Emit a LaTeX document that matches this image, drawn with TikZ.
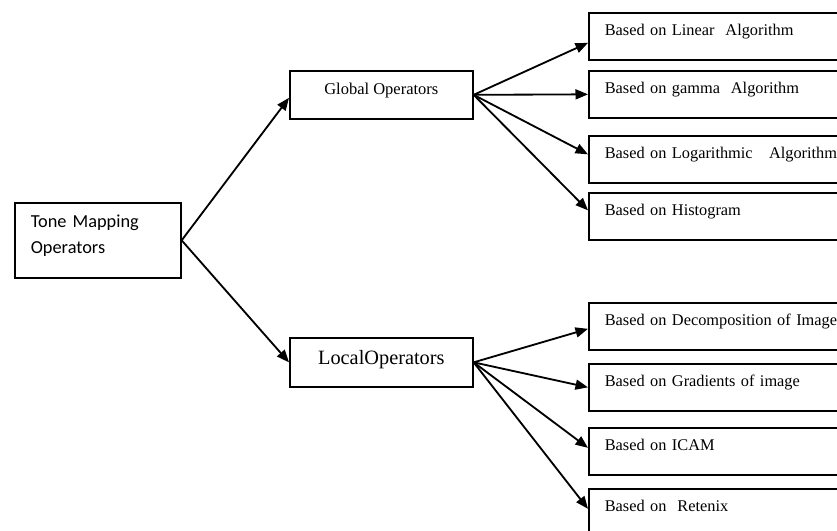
\documentclass[tikz,border=0pt]{standalone}
\usepackage{fontspec}
\setmainfont{Liberation Serif}
\newfontfamily\calibri{Carlito}
\usetikzlibrary{arrows.meta}
\begin{document}
\begin{tikzpicture}[x=0.6pt,y=-0.6pt,
		box/.style={draw=black,line width=1pt,inner sep=0pt,anchor=north west},
		leaf/.style={box,inner xsep=9.6pt,text width=140.8pt,align=left,text height=13.8pt,text depth=14.4pt,font=\fontsize{9.8}{12}\selectfont},
		arr/.style={line width=1.1pt,-{Triangle[length=7.5pt,width=6pt]}}]
			\useasboundingbox (0,0) rectangle (837,530);
			\node[box,inner xsep=9.6pt,text width=80.4pt,align=left,text height=15pt,text depth=30pt,font=\calibri\fontsize{11}{15.6}\selectfont] (tmo) at (14,202) {Tone Mapping\\Operators};
			
			\node[box,minimum width=109.8pt,text height=14.4pt,text depth=14.4pt,font=\fontsize{9.9}{12}\selectfont] (glob) at (289,70) {Global Operators};
			\node[box,minimum width=109.8pt,text height=16.2pt,text depth=13.2pt,font=\fontsize{12.2}{14}\selectfont] (loc) at (289,337) {LocalOperators};
			\draw[arr] (tmo.east) -- ([yshift=-1.8pt]glob.west);
			\draw[arr] (tmo.east) -- (loc.west);
			
			\node[leaf] (lin) at (588,12) {Based on Linear\ \ Algorithm};
			\node[leaf] (gam) at (588,70) {Based on gamma\ \ Algorithm};
			\node[leaf] (log) at (588,135) {Based on Logarithmic\ \ \ Algorithm};
			\node[leaf] (his) at (588,192) {Based on Histogram};
			\draw[arr] (glob.east) -- ([yshift=-3.9pt]lin.west);
			\draw[arr] (glob.east) -- (gam.west);
			\draw[arr] (glob.east) -- ([yshift=3pt]log.west);
			\draw[arr] (glob.east) -- ([yshift=3.6pt]his.west);
			
			\node[leaf] (dec) at (588,302) {Based on Decomposition of Image};
			\node[leaf] (gra) at (588,363) {Based on Gradients of image};
			\node[leaf] (icam) at (588,427) {Based on ICAM};
			\node[leaf] (ret) at (588,488) {Based on\ \ Retenix};
			\draw[arr] (loc.east) -- ([yshift=-1.5pt]dec.west);
			\draw[arr] (loc.east) -- (gra.west);
			\draw[arr] (loc.east) -- ([yshift=2.1pt]icam.west);
			\draw[arr] (loc.east) -- ([yshift=2.1pt]ret.west);
\end{tikzpicture}
\end{document}
